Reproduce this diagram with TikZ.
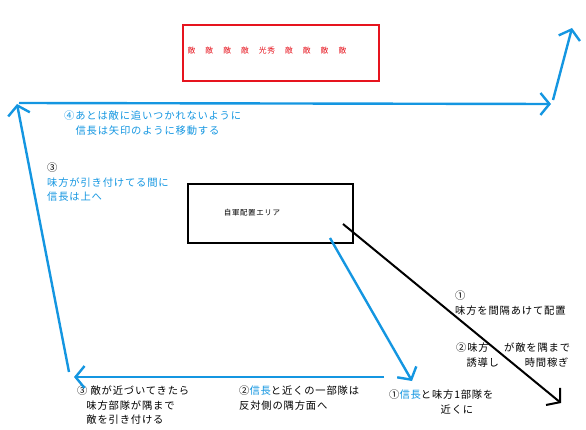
\documentclass[tikz,border=0pt]{standalone}
\usepackage{fontspec}
\usetikzlibrary{arrows.meta}
\newfontfamily\jp[LetterSpace=8]{Noto Sans CJK JP}
\definecolor{nobublue}{RGB}{20,150,225}
\definecolor{tekired}{RGB}{230,20,30}

\begin{document}
\begin{tikzpicture}[x=1pt,y=-1pt,
  bluearrow/.style={draw=nobublue,line width=2.4pt,-{Straight Barb[length=9pt,width=22pt,line width=2.4pt]}},
  blackarrow/.style={draw=black,line width=2pt,-{Straight Barb[length=9pt,width=22pt,line width=2pt]}},
  lbl/.style={anchor=north west,inner sep=0pt,align=left,font=\jp\fontsize{10.3}{14.5}\selectfont}]

\useasboundingbox (0,0) rectangle (586,430);

% Nodes
\node[draw=tekired,line width=2.2pt,minimum width=196pt,minimum height=56pt] (teki) at (281,53) {};
\node[text=tekired,inner sep=0pt,font=\jp\fontsize{7.8}{9}\selectfont] (tekilbl) at (267,51)
  {敵\hspace{10pt}敵\hspace{10pt}敵\hspace{10pt}敵\hspace{10pt}光秀\hspace{10pt}敵\hspace{10pt}敵\hspace{10pt}敵\hspace{10pt}敵};
\node[draw,line width=2pt,minimum width=165pt,minimum height=59pt,inner sep=0pt] (jigun) at (270,214) {};
\node[font=\jp\fontsize{7.5}{9}\selectfont,inner sep=0pt] (jigunlbl) at (252,213) {自軍配置エリア};

\node[lbl,text=nobublue] (step4) at (64,111)
  {④あとは敵に追いつかれないように\\\hspace*{1.1em}信長は矢印のように移動する};
\node[lbl] (step3a) at (47,163)
  {③\\\textcolor{nobublue}{味方が引き付けてる間に}\\\textcolor{nobublue}{信長は上へ}};
\node[lbl] (step3b) at (77,386)
  {③ 敵が近づいてきたら\\\hspace*{0.9em}味方部隊が隅まで\\\hspace*{0.9em}敵を引き付ける};
\node[lbl] (step2b) at (239,386)
  {②\textcolor{nobublue}{信長}と近くの一部隊は\\反対側の隅方面へ};
\node[lbl] (step1b) at (389,390)
  {①\textcolor{nobublue}{信長}と味方1部隊を\\\hspace*{5em}近くに};
\node[lbl] (step1a) at (455,291)
  {①\\味方を間隔あけて配置};
\node[lbl] (step2a) at (456,343)
  {②味方\hspace{1.5em}が敵を隅まで\\\hspace*{1em}誘導し\hspace{2.5em}時間稼ぎ};

\coordinate (blstart) at (330,238);
\coordinate (blend) at (412,381);
\coordinate (bkstart) at (343,224);
\coordinate (bkend) at (561,403);
\coordinate (botr) at (384,377);
\coordinate (botl) at (74,377);
\coordinate (leftb) at (69,372);
\coordinate (leftt) at (17,104);
\coordinate (topl) at (19,103);
\coordinate (topr) at (551,104);
\coordinate (rightb) at (553,100);
\coordinate (rightt) at (572,28);

% Edges
\draw[blackarrow] (bkstart)--(bkend);
\draw[bluearrow] (blstart)--(blend);
\draw[bluearrow] (botr)--(botl);
\draw[bluearrow] (leftb)--(leftt);
\draw[bluearrow] (topl)--(topr);
\draw[bluearrow] (rightb)--(rightt);

\end{tikzpicture}
\end{document}
